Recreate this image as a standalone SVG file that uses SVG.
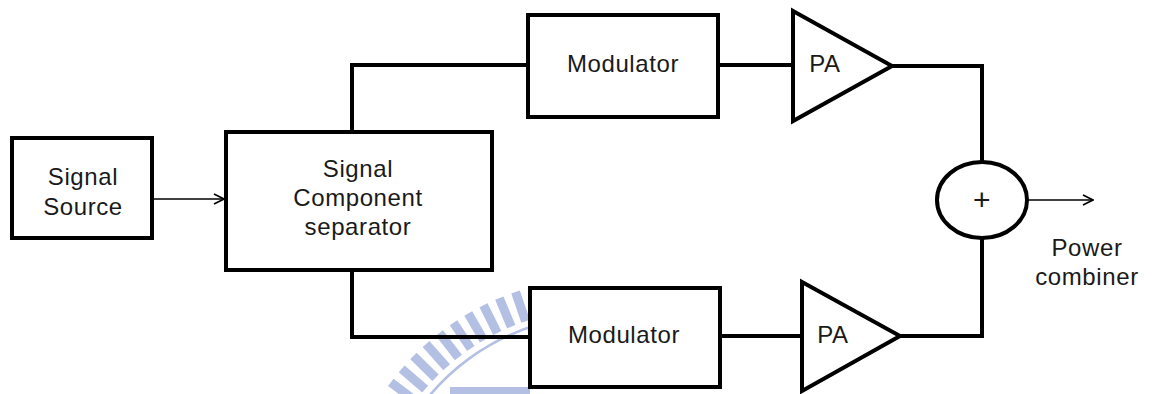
<svg xmlns="http://www.w3.org/2000/svg" width="1154" height="394" viewBox="0 0 1154 394">
  <style>
    .box { fill: #ffffff; stroke: #000000; stroke-width: 4; }
    .wire { fill: none; stroke: #000000; stroke-width: 4; stroke-linejoin: miter; }
    .thin { fill: none; stroke: #000000; stroke-width: 1.6; }
    .lbl { font-family: "Liberation Sans", Arial, sans-serif; font-size: 24px; fill: #1a1a1a; text-anchor: middle; letter-spacing: 0.6px; }
    .mark { fill: #b3bfe3; }
  </style>
  <defs>
    <marker id="open" viewBox="0 0 12 12" refX="11" refY="6" markerWidth="12" markerHeight="12" markerUnits="userSpaceOnUse" orient="auto">
      <path d="M1,1 L11,6 L1,11" fill="none" stroke="#000000" stroke-width="1.6"/>
    </marker>
    <rect id="tick" x="-4.5" y="-262" width="9" height="31"/>
  </defs>
  <rect width="1154" height="394" fill="#ffffff"/>

  <!-- faint background emblem -->
  <g id="emblem" class="mark" transform="translate(600,540)">
    <use href="#tick" transform="rotate(-53)"/>
    <use href="#tick" transform="rotate(-49.2)"/>
    <use href="#tick" transform="rotate(-45.4)"/>
    <use href="#tick" transform="rotate(-41.6)"/>
    <use href="#tick" transform="rotate(-37.8)"/>
    <use href="#tick" transform="rotate(-34)"/>
    <use href="#tick" transform="rotate(-30.2)"/>
    <use href="#tick" transform="rotate(-26.4)"/>
    <use href="#tick" transform="rotate(-22.6)"/>
    <use href="#tick" transform="rotate(-18.8)"/>
    <use href="#tick" transform="rotate(-15)"/>
    <path d="M-185,-125 A224,224 0 0 1 -60,-216" fill="none" stroke="#b3bfe3" stroke-width="2.5"/>
    <rect x="-150" y="-153" width="80" height="8"/>
  </g>

  <!-- connectors -->
  <g id="connectors">
    <line class="thin" x1="152" y1="199" x2="224" y2="199" marker-end="url(#open)"/>
    <polyline class="wire" points="352,132 352,65 528,65"/>
    <polyline class="wire" points="352,270 352,337 530,337"/>
    <line class="wire" x1="718" y1="65" x2="793" y2="65"/>
    <line class="wire" x1="720" y1="336" x2="802" y2="336"/>
    <polyline class="wire" points="892,66 982,66 982,162"/>
    <polyline class="wire" points="900,336 982,336 982,238"/>
    <line class="thin" x1="1027" y1="200" x2="1093" y2="200" marker-end="url(#open)"/>
  </g>

  <g id="signal-source">
    <rect class="box" x="12" y="138" width="140" height="100"/>
    <text class="lbl" x="83" y="185">Signal</text>
    <text class="lbl" x="83" y="215">Source</text>
  </g>

  <g id="separator">
    <rect class="box" x="226" y="132" width="266" height="138"/>
    <text class="lbl" x="358" y="177">Signal</text>
    <text class="lbl" x="358" y="206">Component</text>
    <text class="lbl" x="358" y="235">separator</text>
  </g>

  <g id="modulator-top">
    <rect class="box" x="528" y="15" width="190" height="102"/>
    <text class="lbl" x="623" y="72">Modulator</text>
  </g>

  <g id="modulator-bottom">
    <rect class="box" x="530" y="288" width="190" height="99"/>
    <text class="lbl" x="624" y="343">Modulator</text>
  </g>

  <g id="pa-top">
    <polygon class="box" points="793,11 892,66 793,121"/>
    <text class="lbl" x="825" y="72">PA</text>
  </g>

  <g id="pa-bottom">
    <polygon class="box" points="802,282 900,336 802,391"/>
    <text class="lbl" x="833" y="343">PA</text>
  </g>

  <g id="power-combiner">
    <ellipse class="box" cx="982" cy="200" rx="45" ry="38"/>
    <text class="lbl" x="982" y="210" style="font-size:30px">+</text>
    <text class="lbl" x="1087" y="256">Power</text>
    <text class="lbl" x="1087" y="285">combiner</text>
  </g>
</svg>
